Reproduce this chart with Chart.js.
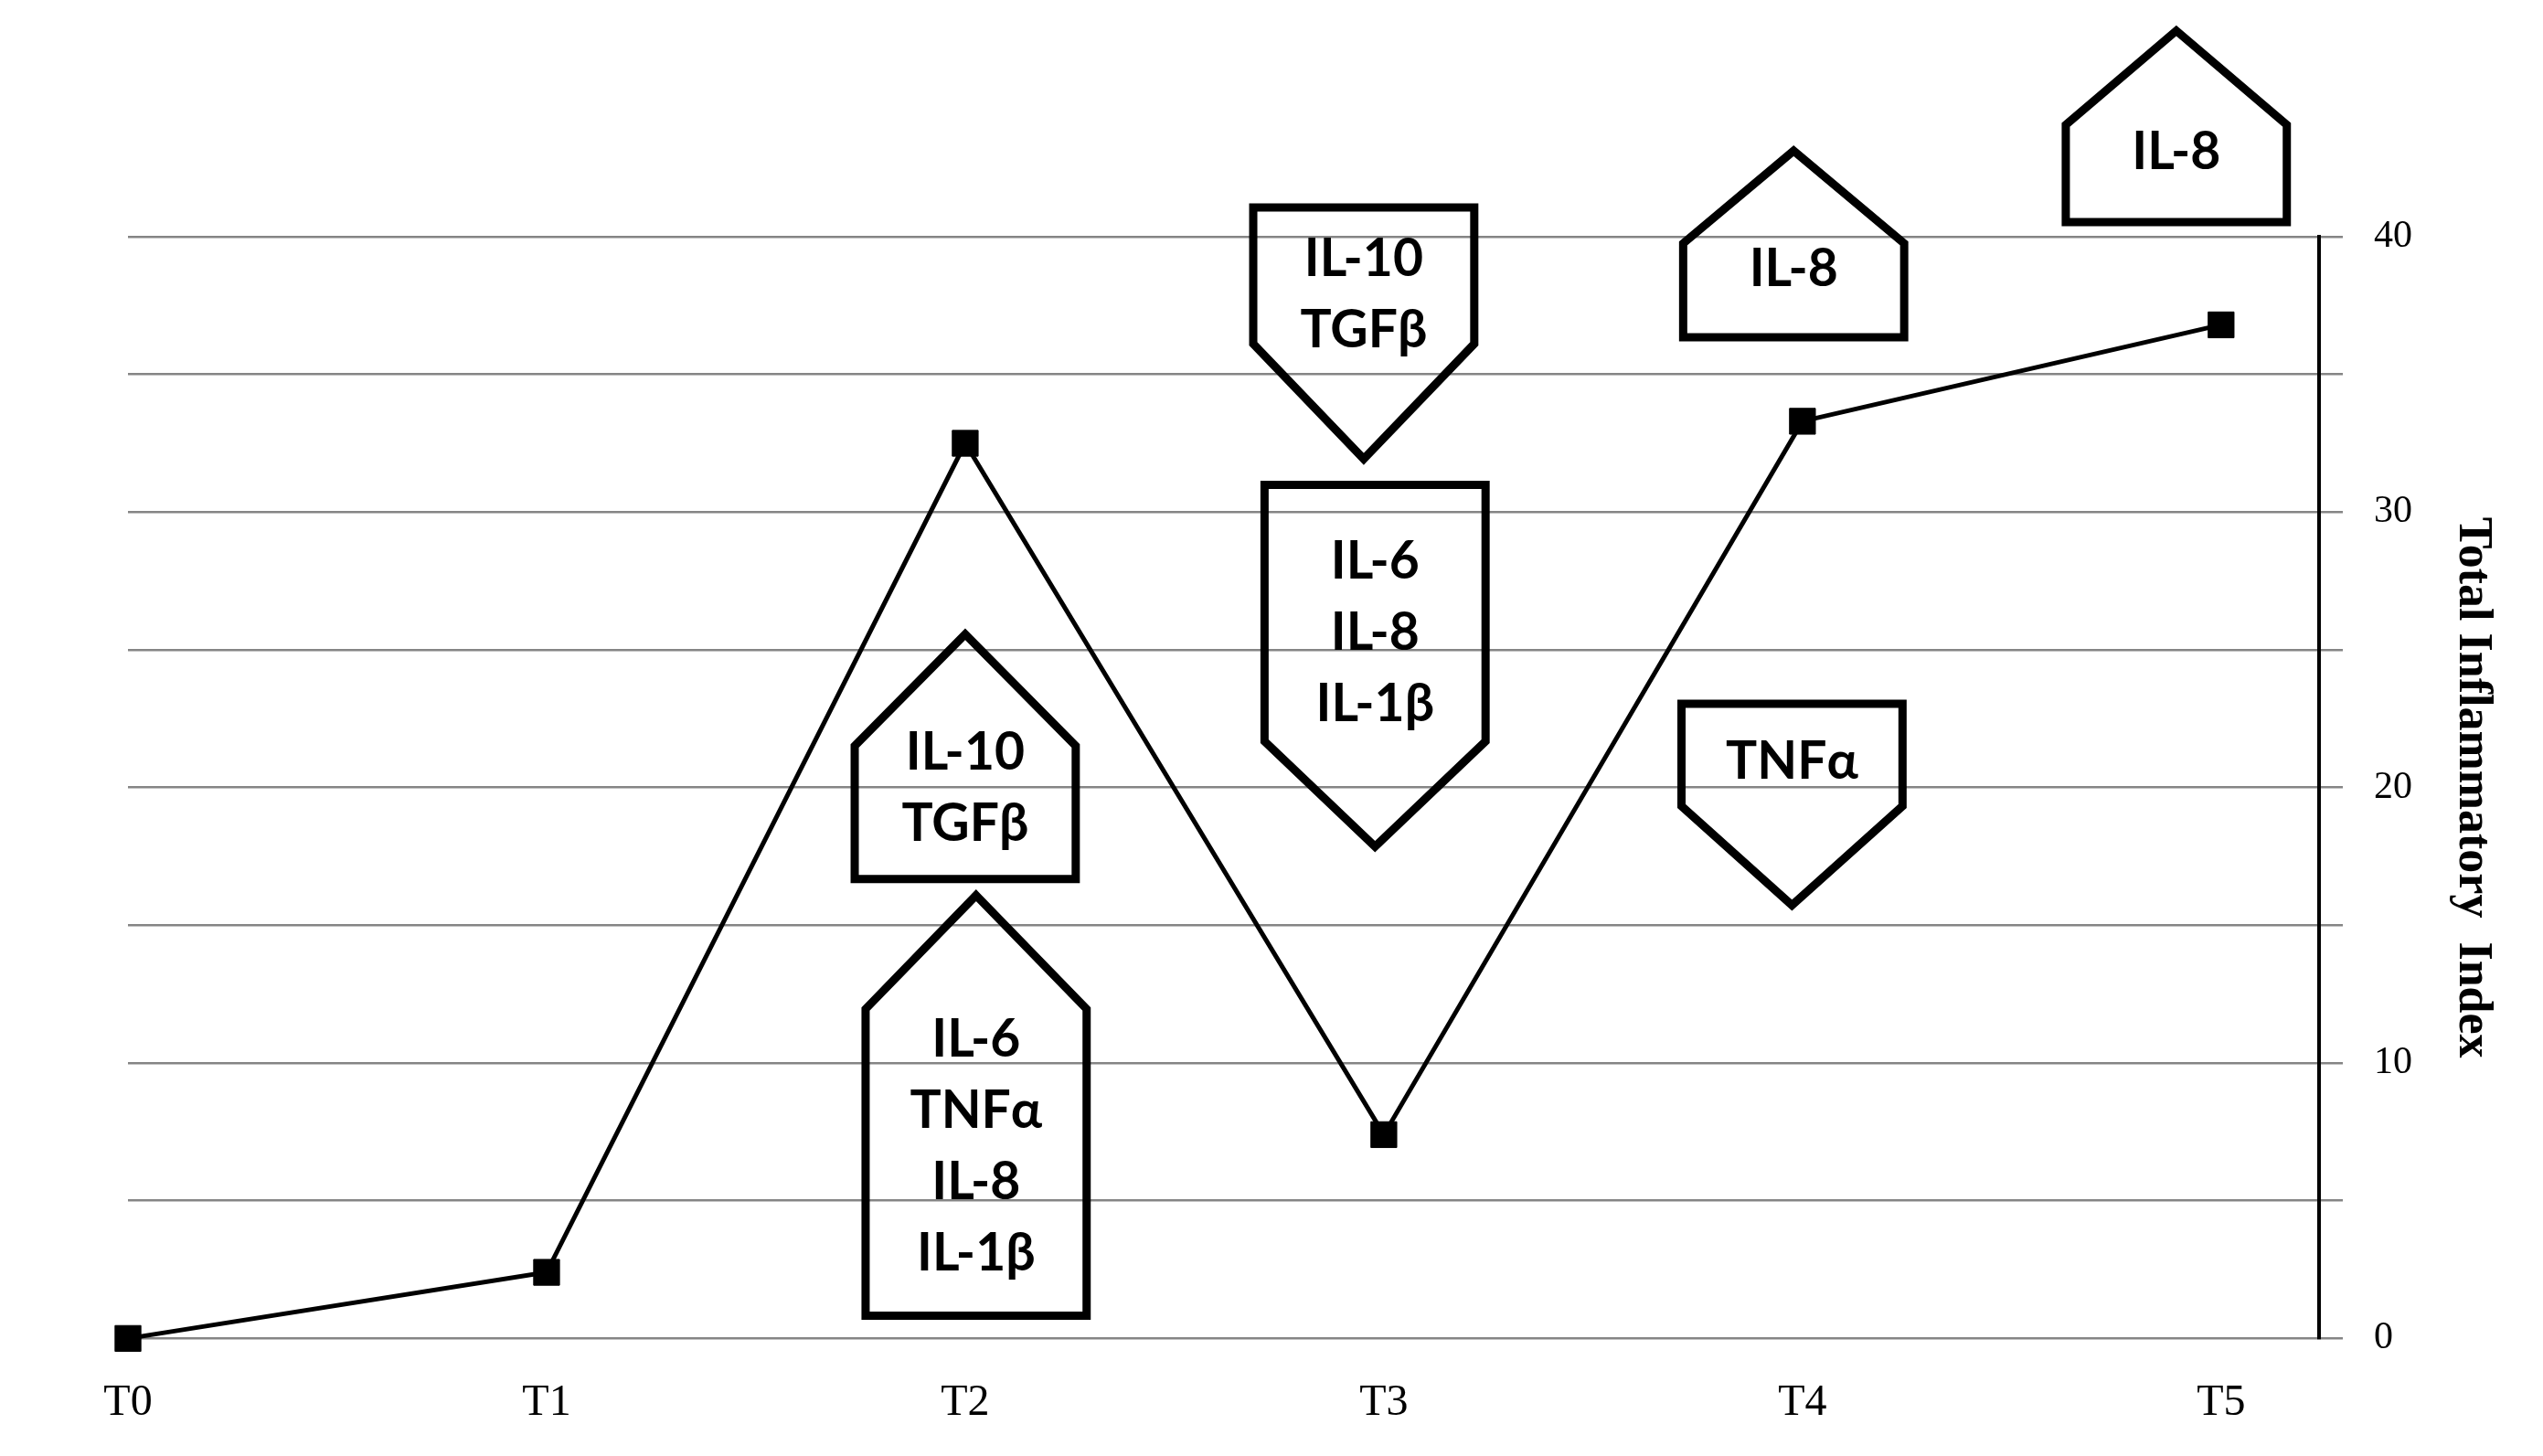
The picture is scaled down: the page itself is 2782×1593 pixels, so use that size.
<!DOCTYPE html>
<html>
<head>
<meta charset="utf-8">
<script src="https://cdn.jsdelivr.net/npm/chart.js@4.4.0/dist/chart.umd.min.js"></script>
<style>
  html, body { margin: 0; padding: 0; background: #ffffff; }
  canvas { display: block; }
</style>
</head>
<body>
<canvas id="chart" width="2782" height="1593"></canvas>
<script>
// ---- data ----
const categories = ['T0', 'T1', 'T2', 'T3', 'T4', 'T5'];
const indexValues = [0, 2.4, 32.5, 7.4, 33.3, 36.8];
const yTickLabels = ['0', '10', '20', '30', '40'];
const yTitle = 'Total Inflammatory  Index';

// ---- callout annotations (cytokine labels) ----
const calloutAt       = [2.0, 2.026, 2.952, 2.979, 3.979, 3.975, 4.893];
const calloutTip      = [25.57, 16.09, 31.93, 17.86, 43.12, 15.73, 47.48];
const calloutShoulder = [21.51, 11.96, 36.11, 21.68, 39.76, 19.33, 44.06];
const calloutBase     = [16.68, 0.83, 41.06, 30.99, 36.35, 23.04, 40.53];
const calloutTextMid  = [19.98, 6.96, 37.9, 25.6, 38.82, 20.92, 43.06];
const calloutLines = [
  ['IL-10', 'TGFβ'],
  ['IL-6', 'TNFα', 'IL-8', 'IL-1β'],
  ['IL-10', 'TGFβ'],
  ['IL-6', 'IL-8', 'IL-1β'],
  ['IL-8'],
  ['TNFα'],
  ['IL-8']
];

const CALLOUT_HALF_WIDTH = 0.264;  // in x-axis units
const CALLOUT_LINE_GAP = 78;       // px between text lines

const calloutPlugin = {
  id: 'callouts',
  afterDraw(chart) {
    const { ctx, scales: { x, y } } = chart;
    ctx.save();
    ctx.strokeStyle = '#000';
    ctx.lineWidth = 9;
    ctx.lineJoin = 'miter';
    ctx.fillStyle = '#000';
    ctx.textAlign = 'center';
    ctx.textBaseline = 'middle';
    ctx.font = 'bold 57px Lato, "Open Sans", sans-serif';
    for (let i = 0; i < calloutAt.length; i++) {
      const cx = x.getPixelForValue(calloutAt[i]);
      const hw = x.getPixelForValue(calloutAt[i] + CALLOUT_HALF_WIDTH) - cx;
      const tip = y.getPixelForValue(calloutTip[i]);
      const sh = y.getPixelForValue(calloutShoulder[i]);
      const base = y.getPixelForValue(calloutBase[i]);
      ctx.beginPath();
      ctx.moveTo(cx, tip);
      ctx.lineTo(cx + hw, sh);
      ctx.lineTo(cx + hw, base);
      ctx.lineTo(cx - hw, base);
      ctx.lineTo(cx - hw, sh);
      ctx.closePath();
      ctx.stroke();
      const lines = calloutLines[i];
      const mid = y.getPixelForValue(calloutTextMid[i]);
      const start = mid - (lines.length - 1) * CALLOUT_LINE_GAP / 2;
      lines.forEach((t, k) => ctx.fillText(t, cx, start + k * CALLOUT_LINE_GAP));
    }
    ctx.restore();
  }
};

new Chart(document.getElementById('chart'), {
  type: 'line',
  data: {
    datasets: [{
      data: categories.map((c, i) => ({ x: i, y: indexValues[i] })),
      borderColor: '#000',
      borderWidth: 5,
      pointStyle: 'rect',
      pointRadius: 20,
      pointBackgroundColor: '#000',
      pointBorderColor: '#000',
      pointBorderWidth: 1,
      tension: 0,
      clip: false
    }]
  },
  options: {
    responsive: false,
    animation: false,
    layout: { padding: { left: 140, top: 259, right: 0, bottom: 0 } },
    plugins: { legend: { display: false }, tooltip: { enabled: false } },
    scales: {
      x: {
        type: 'linear',
        min: 0,
        max: 5.234,
        grid: { display: false, drawTicks: true, tickLength: 13 },
        border: { display: false },
        ticks: {
          stepSize: 1,
          includeBounds: false,
          autoSkip: false,
          maxRotation: 0,
          padding: 29,
          color: '#000',
          font: { family: '"Liberation Serif", serif', size: 48 },
          callback: (v) => (Number.isInteger(v) && categories[v] !== undefined) ? categories[v] : ''
        }
      },
      y: {
        position: 'right',
        min: 0,
        max: 40,
        grid: { color: '#858585', lineWidth: 2.5, tickLength: 26, drawTicks: true },
        border: { display: true, color: '#000', width: 4 },
        ticks: {
          stepSize: 5,
          padding: 34,
          color: '#000',
          font: { family: '"Liberation Serif", serif', size: 42 },
          callback: (v) => yTickLabels.includes(String(v)) ? String(v) : ''
        },
        title: {
          display: true,
          text: yTitle,
          color: '#000',
          font: { family: '"Liberation Serif", serif', size: 52, weight: 'bold' },
          padding: { top: 46, bottom: 0.6 }
        }
      }
    }
  },
  plugins: [calloutPlugin]
});
</script>
</body>
</html>
